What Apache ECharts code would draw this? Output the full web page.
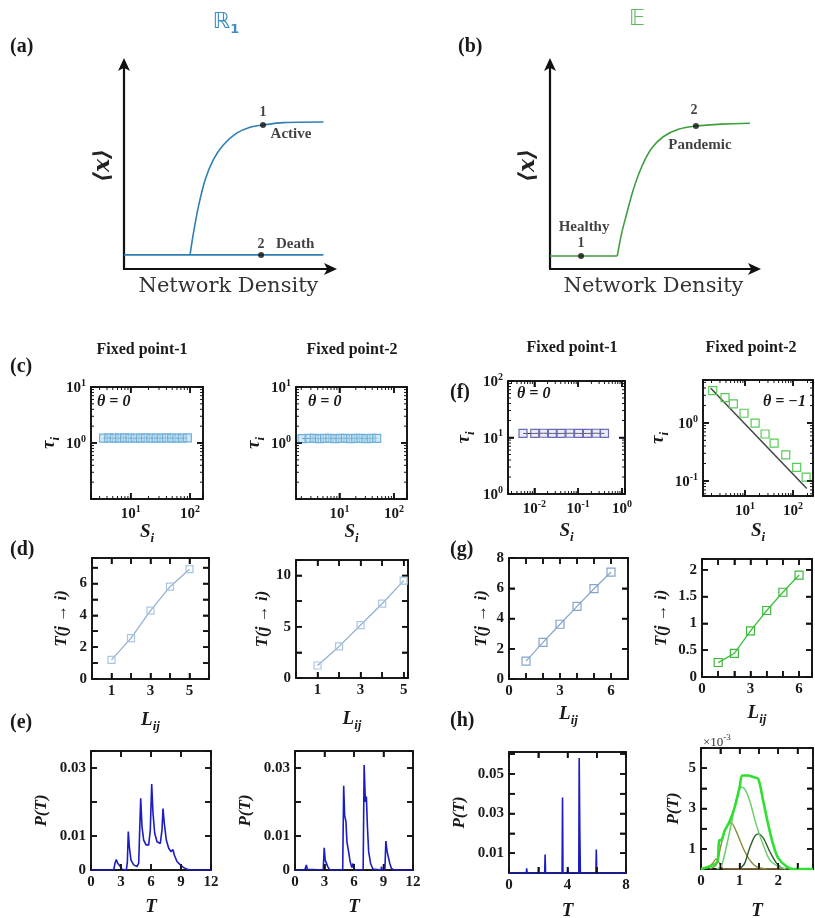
<!DOCTYPE html>
<html><head><meta charset="utf-8">
<script src="https://cdn.jsdelivr.net/npm/echarts@6/dist/echarts.min.js"></script>
<style>html,body{margin:0;padding:0;background:#fff}#main{width:815px;height:918px}</style>
</head><body><div id="main"></div>
<script>
// ---------------- data ----------------
// (a) schematic R1
const aActiveX = [31.6, 33.2, 35.6, 38.8, 42.7, 47.5, 53.9, 60.3, 66.7, 76.2, 95.4];
const aActiveY = [6.8, 17.2, 30.1, 43.0, 52.7, 59.9, 65.6, 68.5, 69.6, 70.7, 71.0];
const aDeathX = [0, 95.4];
const aDeathY = [6.8, 6.8];
const aPointX = [66.5, 65.6];
const aPointY = [69.6, 6.8];
// (b) schematic E
const bHealthyX = [0, 32.5];
const bHealthyY = [6.3, 6.3];
const bPandemicX = [32.5, 34.6, 37.1, 40.2, 44.3, 49.1, 54.7, 62.0, 70.4, 83.0, 96.6];
const bPandemicY = [6.3, 17.2, 26.9, 38.2, 49.4, 58.3, 63.9, 67.5, 69.1, 70.0, 70.4];
const bPointX = [15.0, 70.5];
const bPointY = [6.3, 69.1];
// (c) tau vs S
const c1S = [3.5, 4.3, 5.3, 6.5, 7.9, 9.7, 11.9, 14.6, 17.8, 21.9, 26.8, 32.8, 40, 49, 60, 74, 90];
const c1Tau = [1.22, 1.23, 1.22, 1.22, 1.23, 1.22, 1.22, 1.22, 1.23, 1.22, 1.22, 1.22, 1.23, 1.22, 1.22, 1.22, 1.23];
const c2S = [2.07, 2.78, 3.46, 4.31, 5.36, 6.67, 8.3, 10.3, 12.9, 16.0, 19.9, 24.8, 30.9, 38.4, 48.4];
const c2Tau = [1.2, 1.21, 1.21, 1.2, 1.21, 1.21, 1.2, 1.21, 1.21, 1.2, 1.21, 1.21, 1.2, 1.21, 1.21];
// (f)
const f1S = [0.0055, 0.0102, 0.0162, 0.0257, 0.0407, 0.0646, 0.102, 0.162, 0.257, 0.398];
const f1Tau = [11.8, 11.8, 11.9, 11.8, 11.8, 11.9, 11.8, 11.8, 11.9, 11.8];
const f2S = [2.12, 3.83, 5.70, 9.5, 16.2, 26.1, 40.2, 70.5, 119, 187];
const f2Tau = [3.6, 2.73, 2.13, 1.47, 0.99, 0.645, 0.447, 0.282, 0.172, 0.116];
const f2FitS = [1.93, 193];
const f2FitTau = [3.96, 0.074];
// (d), (g) T(j->i) vs L_ij
const d1L = [1, 2, 3, 4, 5];
const d1T = [1.2, 2.57, 4.3, 5.8, 6.9];
const d2L = [1, 2, 3, 4, 5];
const d2T = [1.22, 3.08, 5.16, 7.24, 9.49];
const g1L = [1, 2, 3, 4, 5, 6];
const g1T = [1.18, 2.42, 3.62, 4.8, 5.97, 7.07];
const g2L = [1, 2, 3, 4, 5, 6];
const g2T = [0.27, 0.44, 0.86, 1.24, 1.58, 1.90];
// (e), (h) P(T)
const e1T = [0, 1.05, 1.2, 1.35, 2.27, 2.4, 2.53, 2.67, 2.8, 2.93, 3.1, 3.53, 3.63, 3.73, 3.83, 4.0, 4.27, 4.6, 4.77, 4.87, 4.97, 5.1, 5.27, 5.5, 5.77, 5.93, 6.07, 6.2, 6.37, 6.6, 6.93, 7.1, 7.2, 7.33, 7.53, 7.77, 8.0, 8.2, 8.33, 8.6, 8.93, 9.27, 9.6, 10.1, 12];
const e1P = [0, 0, 0.0005, 0, 0, 0.002, 0.0031, 0.002, 0.0015, 0.001, 0.0002, 0, 0.002, 0.0113, 0.0069, 0.0029, 0.0015, 0.001, 0.002, 0.0118, 0.0211, 0.0127, 0.0088, 0.0074, 0.0074, 0.0118, 0.0253, 0.0167, 0.0108, 0.0083, 0.0078, 0.0118, 0.0181, 0.0137, 0.0088, 0.0064, 0.0054, 0.006, 0.0044, 0.0025, 0.0015, 0.0007, 0.0002, 0, 0];
const e2T = [0, 0.99, 1.16, 1.25, 2.87, 2.97, 3.07, 3.17, 3.33, 3.53, 4.85, 4.95, 5.05, 5.18, 5.28, 5.45, 5.61, 5.78, 5.9, 6.0, 6.93, 7.03, 7.16, 7.26, 7.36, 7.49, 7.69, 7.92, 8.75, 8.8, 8.85, 9.14, 9.24, 9.37, 9.5, 9.64, 9.8, 10.07, 12];
const e2P = [0, 0, 0.0015, 0.0002, 0, 0.0065, 0.0029, 0.0032, 0.001, 0, 0, 0.0248, 0.016, 0.0143, 0.0083, 0.0054, 0.0024, 0.0007, 0.0019, 0, 0, 0.0309, 0.02, 0.0216, 0.0131, 0.0054, 0.0019, 0.0003, 0, 0.001, 0, 0, 0.0085, 0.0054, 0.0049, 0.0019, 0.0005, 0, 0];
const h1T = [0, 1.18, 1.21, 1.24, 1.97, 2.0, 2.03, 2.44, 2.47, 2.5, 3.63, 3.66, 3.69, 3.99, 4.02, 4.05, 4.77, 4.8, 4.84, 4.88, 5.94, 5.97, 6.0, 7.06, 7.09, 7.12, 8];
const h1P = [0, 0, 0.0024, 0, 0, 0.0007, 0, 0, 0.0093, 0, 0, 0.0381, 0, 0, 0.002, 0, 0, 0.058, 0.0232, 0, 0, 0.0119, 0, 0, 0.0003, 0, 0];
// (h) right, values in units of 1e-3
const h2TotalT = [0, 0.22, 0.39, 0.44, 0.47, 0.54, 0.61, 0.74, 0.87, 1.0, 1.07, 1.22, 1.35, 1.48, 1.61, 1.74, 1.87, 2.0, 2.22, 2.39, 2.9];
const h2TotalP = [0, 0.12, 0.28, 0.5, 1.4, 1.46, 1.88, 2.35, 3.05, 4.05, 4.64, 4.64, 4.56, 4.47, 3.38, 2.21, 1.2, 0.54, 0.12, 0, 0];
const h2SecondT = [0.4, 0.52, 0.65, 0.78, 0.91, 1.04, 1.13, 1.26, 1.43, 1.61, 1.78, 2.0, 2.2];
const h2SecondP = [0, 0.12, 1.04, 2.2, 3.38, 4.05, 3.97, 3.38, 2.2, 1.2, 0.45, 0.12, 0];
const h2OliveT = [0.22, 0.39, 0.52, 0.63, 0.78, 0.91, 1.09, 1.26, 1.43, 1.7];
const h2OliveP = [0, 0.2, 1.2, 1.96, 2.3, 1.88, 1.04, 0.45, 0.12, 0];
const h2DarkT = [1.0, 1.13, 1.26, 1.39, 1.48, 1.61, 1.78, 1.96, 2.13, 2.4];
const h2DarkP = [0, 0.28, 1.04, 1.62, 1.74, 1.54, 0.87, 0.28, 0.03, 0];
const h2BrownT = [0, 0.17, 0.3, 0.39, 0.48, 0.57, 0.65, 2.9];
const h2BrownP = [0, 0.07, 0.28, 0.5, 0.28, 0.03, 0, 0];
// tick labels
const c1XLabels = [10, 100], c1YLabels = [1, 10];
const c2XLabels = [10, 100], c2YLabels = [1, 10];
const f1XLabels = [0.01, 0.1, 1], f1YLabels = [1, 10, 100];
const f2XLabels = [10, 100], f2YLabels = [0.1, 1];
const d1XLabels = [1, 3, 5], d1YLabels = [0, 2, 4, 6];
const d2XLabels = [1, 3, 5], d2YLabels = [0, 5, 10];
const g1XLabels = [0, 3, 6], g1YLabels = [0, 2, 4, 6, 8];
const g2XLabels = [0, 3, 6], g2YLabels = [0, 0.5, 1, 1.5, 2];
const e1XLabels = [0, 3, 6, 9, 12], e1YLabels = [0, 0.01, 0.03];
const e2XLabels = [0, 3, 6, 9, 12], e2YLabels = [0, 0.01, 0.03];
const h1XLabels = [0, 4, 8], h1YLabels = [0.01, 0.03, 0.05];
const h2XLabels = [0, 1, 2], h2YLabels = [1, 3, 5];

// ---------------- helpers ----------------
const FONT = 'Liberation Serif';
const INK = '#1a1a1a';
const zip = (xs, ys) => xs.map((x, i) => [x, ys[i]]);
const grids = [], xAxes = [], yAxes = [], series = [], graphic = [];

function supRich() {
  return {
    b: {fontFamily: FONT, fontWeight: 'bold', fontSize: 15, color: INK, verticalAlign: 'bottom', lineHeight: 18},
    s: {fontFamily: FONT, fontWeight: 'bold', fontSize: 10, color: INK, verticalAlign: 'top', lineHeight: 18}
  };
}
function nameRich() {
  return {
    m: {fontFamily: FONT, fontStyle: 'italic', fontWeight: 'bold', fontSize: 19, color: INK, verticalAlign: 'middle', lineHeight: 26},
    s: {fontFamily: FONT, fontStyle: 'italic', fontWeight: 'bold', fontSize: 13, color: INK, verticalAlign: 'bottom', lineHeight: 26},
    p: {fontFamily: FONT, fontStyle: 'italic', fontWeight: 'bold', fontSize: 17, color: INK, verticalAlign: 'middle', lineHeight: 26}
  };
}

function makeFormatter(c) {
  if (c.type === 'log') {
    return function (v) {
      for (const t of c.labels) {
        if (Math.abs(Math.log10(v) - Math.log10(t)) < 0.01) return '{b|10}{s|' + Math.round(Math.log10(t)) + '}';
      }
      return '';
    };
  }
  return function (v) {
    for (const t of c.labels) if (Math.abs(v - t) < 1e-7) return String(t);
    return '';
  };
}

// tick positions of an axis (derived from its min / max / interval)
function tickValues(c) {
  const out = [];
  if (c.type === 'log') {
    const lo = Math.floor(Math.log10(c.min)), hi = Math.ceil(Math.log10(c.max));
    for (let e = lo; e <= hi; e++) {
      for (let k = 1; k <= 9; k++) {
        const v = k * Math.pow(10, e);
        if (v > c.min * 1.001 && v < c.max / 1.001) out.push([v, k === 1 ? 1 : 0]);
      }
    }
  } else {
    for (let i = 1; i < 1000; i++) {
      const v = c.min + i * c.interval;
      if (v >= c.max - 1e-9) break;
      out.push([v, 1]);
    }
  }
  return out;
}

function tickSeries(ax, xc, yc) {
  const data = [];
  tickValues(xc).forEach(t => data.push([t[0], yc.min, t[1], 1]));
  tickValues(yc).forEach(t => data.push([xc.min, t[0], t[1], 0]));
  series.push({
    type: 'custom', xAxisIndex: ax.x, yAxisIndex: ax.y, data: data, silent: true, animation: false, z: 4,
    renderItem: function (params, api) {
      try {
        const cs = params.coordSys;
        const len = api.value(2) === 1 ? 6 : 3;
        const st = {stroke: '#111', lineWidth: api.value(2) === 1 ? 1.5 : 1};
        const p = api.coord([api.value(0), api.value(1)]);
        if (api.value(3) === 1) {
          const x = p[0];
          return {type: 'group', children: [
            {type: 'line', shape: {x1: x, y1: cs.y + cs.height, x2: x, y2: cs.y + cs.height - len}, style: st},
            {type: 'line', shape: {x1: x, y1: cs.y, x2: x, y2: cs.y + len}, style: st}]};
        }
        const y = p[1];
        return {type: 'group', children: [
          {type: 'line', shape: {x1: cs.x, y1: y, x2: cs.x + len, y2: y}, style: st},
          {type: 'line', shape: {x1: cs.x + cs.width, y1: y, x2: cs.x + cs.width - len, y2: y}, style: st}]};
      } catch (e) {
        return null;
      }
    }
  });
}

function axisCfg(gi, c, pos, primary, isY) {
  const a = {
    gridIndex: gi, type: c.type || 'value', position: pos,
    min: c.min, max: c.max,
    axisLine: {show: true, onZero: false, lineStyle: {color: INK, width: 2}},
    axisTick: {show: true, inside: true, length: 6, lineStyle: {color: '#111', width: 1.6}},
    splitLine: {show: false},
    axisLabel: {show: primary, formatter: makeFormatter(c), rich: supRich(), margin: 5,
      fontFamily: FONT, fontWeight: 'bold', fontSize: 15, color: INK}
  };
  if (c.interval != null) a.interval = c.interval;
  if (primary) {
    a.name = c.name;
    a.nameLocation = 'middle';
    a.nameGap = c.gap;
    if (isY) a.nameRotate = 90;
    a.nameTextStyle = {rich: nameRich(), fontFamily: FONT, fontStyle: 'italic', fontWeight: 'bold', fontSize: 16, color: INK};
  }
  return a;
}

function addPanel(box, xc, yc) {
  const gi = grids.length;
  grids.push({left: box[0], top: box[1], width: box[2], height: box[3], outerBoundsMode: 'none'});
  xAxes.push(axisCfg(gi, xc, 'bottom', true, false));
  const xi = xAxes.length - 1;
  xAxes.push(axisCfg(gi, xc, 'top', false, false));
  yAxes.push(axisCfg(gi, yc, 'left', true, true));
  const yi = yAxes.length - 1;
  yAxes.push(axisCfg(gi, yc, 'right', false, true));
  const ax = {x: xi, y: yi};
  tickSeries(ax, xc, yc);
  return ax;
}

function schemAxis(gi, pos) {
  return {gridIndex: gi, type: 'value', min: 0, max: 100, position: pos,
    axisTick: {show: false}, axisLabel: {show: false}, splitLine: {show: false},
    axisLine: {show: true, onZero: false, symbol: ['none', 'arrow'], symbolSize: [9, 13], symbolOffset: [0, 4],
      lineStyle: {color: '#111', width: 2.2}}};
}
function schemPanel(box, gapX, gapY) {
  const gi = grids.length;
  grids.push({left: box[0], top: box[1], width: box[2], height: box[3], outerBoundsMode: 'none'});
  xAxes.push(Object.assign(schemAxis(gi, 'bottom'), {name: 'Network Density', nameLocation: 'middle', nameGap: gapX,
    nameTextStyle: {fontFamily: 'DejaVu Serif', fontSize: 21, color: '#333'}}));
  yAxes.push(Object.assign(schemAxis(gi, 'left'), {name: '⟨x⟩', nameLocation: 'middle', nameRotate: 90, nameGap: gapY,
    nameTextStyle: {fontFamily: 'DejaVu Serif', fontWeight: 'bold', fontStyle: 'italic', fontSize: 22, color: '#222'}}));
  return {x: xAxes.length - 1, y: yAxes.length - 1};
}

function line(ax, xs, ys, color, width, extra) {
  series.push(Object.assign({type: 'line', xAxisIndex: ax.x, yAxisIndex: ax.y, data: zip(xs, ys),
    symbol: 'none', animation: false, silent: true, lineStyle: {color: color, width: width}}, extra || {}));
}
function squares(ax, xs, ys, lineColor, sqColor, fill, lineWidth, size) {
  series.push({type: 'line', xAxisIndex: ax.x, yAxisIndex: ax.y, data: zip(xs, ys), animation: false, silent: true,
    symbol: 'rect', symbolSize: size || 7, showSymbol: true, showAllSymbol: true,
    lineStyle: {color: lineColor, width: lineWidth, opacity: lineWidth ? 1 : 0},
    itemStyle: {color: fill, borderColor: sqColor, borderWidth: 1.2}, z: 3});
}
function labelPoint(ax, xs, ys, idx, text, offset, size) {
  series.push({type: 'scatter', xAxisIndex: ax.x, yAxisIndex: ax.y, data: [[xs[idx], ys[idx]]], animation: false, silent: true,
    symbolSize: 0.01,
    label: {show: true, position: 'inside', offset: offset, formatter: text,
      fontFamily: FONT, fontWeight: 'bold', fontSize: size || 14, color: '#111'}});
}
function txt(x, y, text, font, fill, align, rich) {
  const st = {text: text, font: font, fill: fill || INK, align: align || 'left', verticalAlign: 'middle'};
  if (rich) st.rich = rich;
  graphic.push({type: 'text', x: x, y: y, silent: true, style: st});
}

// ---------------- (c) ----------------
const SNAME = '{m|S}{s|i}', TAUNAME = '{m|τ}{s|i}';
const pc1 = addPanel([91, 387, 112, 112],
  {type: 'log', min: 2.15, max: 165, labels: c1XLabels, name: SNAME, gap: 20},
  {type: 'log', min: 0.1, max: 10, labels: c1YLabels, name: TAUNAME, gap: 27});
squares(pc1, c1S, c1Tau, '#3a3a55', '#6fb0d8', 'rgba(170,215,238,0.55)', 1, 8);
const pc2 = addPanel([296, 387, 111, 112],
  {type: 'log', min: 1.6, max: 174, labels: c2XLabels, name: SNAME, gap: 20},
  {type: 'log', min: 0.1, max: 10, labels: c2YLabels, name: TAUNAME, gap: 23});
squares(pc2, c2S, c2Tau, '#3a3a55', '#6fb0d8', 'rgba(170,215,238,0.55)', 1, 8);

// ---------------- (f) ----------------
const pf1 = addPanel([508, 381, 117, 113],
  {type: 'log', min: 0.0025, max: 1.17, labels: f1XLabels, name: SNAME, gap: 24},
  {type: 'log', min: 1, max: 100, labels: f1YLabels, name: TAUNAME, gap: 31});
squares(pf1, f1S, f1Tau, '#222', '#6a6ab8', 'rgba(200,200,240,0.35)', 1, 8);
const pf2 = addPanel([703, 380, 110, 116],
  {type: 'log', min: 1.33, max: 260, labels: f2XLabels, name: SNAME, gap: 22},
  {type: 'log', min: 0.055, max: 5.5, labels: f2YLabels, name: TAUNAME, gap: 31});
line(pf2, f2FitS, f2FitTau, '#444', 1.5);
squares(pf2, f2S, f2Tau, 'rgba(0,0,0,0)', '#55cc55', 'rgba(255,255,255,0)', 0, 8);

// ---------------- (d) ----------------
const TJI = '{p|T(j → i)}', LNAME = '{m|L}{s|ij}';
const pd1 = addPanel([92, 558, 117, 121],
  {min: 0, max: 6, interval: 1, labels: d1XLabels, name: LNAME, gap: 28},
  {min: 0, max: 7.6, interval: 1, labels: d1YLabels, name: TJI, gap: 17});
squares(pd1, d1L, d1T, '#93b2d2', '#a9c6e2', 'rgba(255,255,255,0)', 1.3, 7);
const pd2 = addPanel([296, 560, 112, 118],
  {min: 0, max: 5.2, interval: 1, labels: d2XLabels, name: LNAME, gap: 28},
  {min: 0, max: 11.5, interval: 2.5, labels: d2YLabels, name: TJI, gap: 20});
squares(pd2, d2L, d2T, '#93b2d2', '#a9c6e2', 'rgba(255,255,255,0)', 1.3, 7);

// ---------------- (g) ----------------
const pg1 = addPanel([509, 558, 119, 121],
  {min: 0, max: 7, interval: 1, labels: g1XLabels, name: LNAME, gap: 22},
  {min: 0, max: 8, interval: 2, labels: g1YLabels, name: TJI, gap: 14});
squares(pg1, g1L, g1T, '#8aa8cc', '#86a4cc', 'rgba(255,255,255,0)', 1.3, 8);
const pg2 = addPanel([702, 559, 110, 118],
  {min: 0, max: 6.8, interval: 1, labels: g2XLabels, name: LNAME, gap: 23},
  {min: 0, max: 2.2, interval: 0.5, labels: g2YLabels, name: TJI, gap: 27});
squares(pg2, g2L, g2T, '#44c244', '#3cb83c', 'rgba(255,255,255,0)', 1.4, 8);

// ---------------- (e) ----------------
const PNAME = '{p|P(T)}', TNAME = '{m|T}';
const BLUE = '#1c1cc4';
const pe1 = addPanel([91, 751, 120, 119],
  {min: 0, max: 12, interval: 3, labels: e1XLabels, name: TNAME, gap: 24},
  {min: 0, max: 0.035, interval: 0.01, labels: e1YLabels, name: PNAME, gap: 36});
line(pe1, e1T, e1P, BLUE, 1.6);
const pe2 = addPanel([295, 751, 118, 119],
  {min: 0, max: 12, interval: 3, labels: e2XLabels, name: TNAME, gap: 24},
  {min: 0, max: 0.035, interval: 0.01, labels: e2YLabels, name: PNAME, gap: 36});
line(pe2, e2T, e2P, BLUE, 1.6);

// ---------------- (h) ----------------
const ph1 = addPanel([509, 752, 117, 121],
  {min: 0, max: 8, interval: 2, labels: h1XLabels, name: TNAME, gap: 25},
  {min: 0, max: 0.061, interval: 0.01, labels: h1YLabels, name: PNAME, gap: 36});
line(ph1, h1T, h1P, BLUE, 1.6);
const ph2 = addPanel([701, 748, 112, 121],
  {min: 0, max: 2.9, interval: 0.5, labels: h2XLabels, name: TNAME, gap: 29},
  {min: 0, max: 6, interval: 1, labels: h2YLabels, name: PNAME, gap: 14});
line(ph2, h2BrownT, h2BrownP, '#9c7a3e', 1.3, {smooth: 0.3});
line(ph2, h2OliveT, h2OliveP, '#8a8a3a', 1.4, {smooth: 0.3});
line(ph2, h2DarkT, h2DarkP, '#2e5a2e', 1.4, {smooth: 0.3});
line(ph2, h2SecondT, h2SecondP, '#6ccf6c', 1.5, {smooth: 0.3});
line(ph2, h2TotalT, h2TotalP, '#30e030', 2.6, {smooth: 0.3});

// ---------------- (a) ----------------
const pa = schemPanel([124, 62, 209, 207], 7, 10);
line(pa, aDeathX, aDeathY, '#2f7fb5', 1.6);
line(pa, aActiveX, aActiveY, '#2f7fb5', 1.6, {smooth: 0.3});
series.push({type: 'scatter', xAxisIndex: pa.x, yAxisIndex: pa.y, data: zip(aPointX, aPointY), symbolSize: 6,
  itemStyle: {color: '#111'}, animation: false, silent: true, z: 4});
labelPoint(pa, aPointX, aPointY, 0, '1', [0, -13]);
labelPoint(pa, aPointX, aPointY, 0, 'Active', [28, 9], 15);
labelPoint(pa, aPointX, aPointY, 1, '2', [0, -11]);
labelPoint(pa, aPointX, aPointY, 1, 'Death', [34, -11], 15);

// ---------------- (b) ----------------
const pb = schemPanel([550, 62, 207, 207], 7, 11);
line(pb, bHealthyX, bHealthyY, '#3f9f3f', 1.6);
line(pb, bPandemicX, bPandemicY, '#3f9f3f', 1.6, {smooth: 0.3});
series.push({type: 'scatter', xAxisIndex: pb.x, yAxisIndex: pb.y, data: zip(bPointX, bPointY), symbolSize: 6,
  itemStyle: {color: '#111'}, animation: false, silent: true, z: 4});
labelPoint(pb, bPointX, bPointY, 0, '1', [0, -13]);
labelPoint(pb, bPointX, bPointY, 0, 'Healthy', [3, -29], 15);
labelPoint(pb, bPointX, bPointY, 1, '2', [-2, -16]);
labelPoint(pb, bPointX, bPointY, 1, 'Pandemic', [4, 19], 15);

// ---------------- texts ----------------
const LETTER = 'bold 20px "Liberation Serif"';
txt(10, 47, '(a)', LETTER); txt(458, 47, '(b)', LETTER);
txt(10, 367, '(c)', LETTER); txt(10, 550, '(d)', LETTER); txt(10, 723, '(e)', LETTER);
txt(450, 393, '(f)', LETTER); txt(450, 550, '(g)', LETTER); txt(450, 721, '(h)', LETTER);
const TITLE = 'bold 16px "Liberation Serif"';
txt(142, 350, 'Fixed point-1', TITLE, INK, 'center');
txt(352, 350, 'Fixed point-2', TITLE, INK, 'center');
txt(572, 348, 'Fixed point-1', TITLE, INK, 'center');
txt(751, 348, 'Fixed point-2', TITLE, INK, 'center');
const THETA = 'italic bold 16px "Liberation Serif"';
txt(97, 402, 'θ = 0', THETA);
txt(308, 402, 'θ = 0', THETA);
txt(517, 394, 'θ = 0', THETA);
txt(806, 402, 'θ = −1', THETA, INK, 'right');
txt(226, 22, '{r|ℝ}{s|1}', '22px "DejaVu Sans"', '#3a8ec4', 'center', {
  r: {fontFamily: 'DejaVu Sans', fontSize: 22, color: '#3a8ec4', verticalAlign: 'middle', lineHeight: 28},
  s: {fontFamily: 'DejaVu Sans', fontWeight: 'bold', fontSize: 13, color: '#2f7fb5', verticalAlign: 'bottom', lineHeight: 28}});
txt(637, 19, '\u{1D53C}', '22px "DejaVu Sans"', '#5dbb5d', 'center');
txt(703, 741, '{a|×10}{s|-3}', '12px "Liberation Serif"', '#333', 'left', {
  a: {fontFamily: FONT, fontSize: 13, color: '#333', verticalAlign: 'bottom', lineHeight: 16},
  s: {fontFamily: FONT, fontSize: 9, color: '#333', verticalAlign: 'top', lineHeight: 16}});

const chart = echarts.init(document.getElementById('main'), null, {renderer: 'canvas'});
chart.setOption({animation: false, backgroundColor: '#fff', grid: grids, xAxis: xAxes, yAxis: yAxes, series: series, graphic: graphic});
</script>
</body></html>
